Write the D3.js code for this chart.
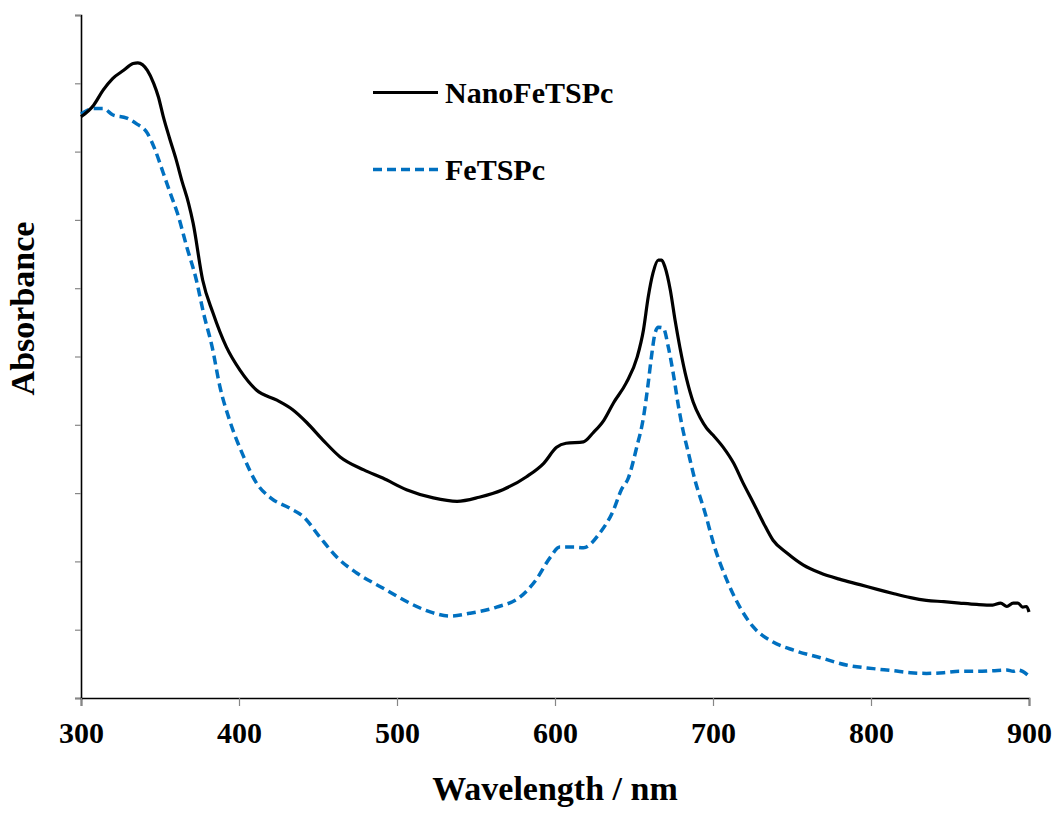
<!DOCTYPE html>
<html>
<head>
<meta charset="utf-8">
<script src="https://cdn.jsdelivr.net/npm/d3@7"></script>
<style>
  body { margin: 0; background: #fff; }
  text { font-family: "Liberation Serif", "Times New Roman", serif; font-weight: bold; }
</style>
</head>
<body>
<div id="chart"></div>
<script>
// NanoFeTSPc (solid black)
var nanoWl = [300, 308, 314, 320, 327, 333, 336, 342, 346, 349, 352, 356, 360, 364, 368, 371,
    377, 383.5, 392, 400.6, 411, 424, 434, 443, 453, 464, 479, 491, 506, 523, 538, 552, 567, 582, 593,
    601, 607, 618, 624, 631, 637, 645, 652, 656, 659, 662, 665.4, 667.5, 669.6, 673, 676, 679, 683.4,
    687.5, 692, 696, 700, 706.5, 713, 719, 725.5, 732, 738, 747, 757, 768, 780, 793, 804, 814, 825,
    835, 846, 856, 867, 877, 882, 886, 890, 893, 896, 898.5, 900];
var nanoAbs = [0.851, 0.868, 0.890, 0.907, 0.919, 0.929, 0.930, 0.919, 0.900, 0.880, 0.852, 0.820,
    0.790, 0.756, 0.725, 0.695, 0.612, 0.564, 0.514, 0.480, 0.451, 0.436, 0.422, 0.403, 0.378,
    0.353, 0.334, 0.322, 0.305, 0.293, 0.288, 0.294, 0.305, 0.324, 0.344, 0.367, 0.373, 0.375, 0.388,
    0.407, 0.432, 0.461, 0.499, 0.539, 0.587, 0.622, 0.641, 0.641, 0.631, 0.597, 0.553, 0.514, 0.466,
    0.433, 0.410, 0.395, 0.385, 0.367, 0.344, 0.315, 0.286, 0.256, 0.231, 0.212, 0.195, 0.183, 0.174,
    0.166, 0.159, 0.153, 0.147, 0.143, 0.141, 0.139, 0.137, 0.136, 0.139, 0.134, 0.139, 0.139, 0.133,
    0.134, 0.126];

// FeTSPc (dashed blue)
var feWl = [300, 308, 314, 320, 329, 335, 342, 347, 352, 357, 361, 367, 373, 377.5, 383, 388, 394, 403,
    411, 420, 432, 441, 451, 462, 474.5, 491, 508, 521, 533.5, 546, 563, 578, 588, 597, 603, 612, 618,
    628.5, 637, 642, 646.4, 651.7, 656, 659, 661, 663.3, 665.4, 668.5, 671.7, 675, 678, 681, 684, 688.6,
    695, 701, 708.7, 717, 725.5, 738, 751, 768, 785, 801.5, 814, 825, 835, 846, 856, 867, 877, 886,
    890, 893, 896, 900];
var feAbs = [0.855, 0.863, 0.863, 0.854, 0.849, 0.841, 0.827, 0.802, 0.769, 0.736, 0.710, 0.660, 0.612,
    0.564, 0.514, 0.455, 0.407, 0.353, 0.315, 0.293, 0.278, 0.265, 0.236, 0.206, 0.183, 0.161, 0.139,
    0.126, 0.120, 0.124, 0.133, 0.148, 0.173, 0.206, 0.221, 0.221, 0.220, 0.242, 0.275, 0.305, 0.322,
    0.367, 0.411, 0.461, 0.499, 0.534, 0.543, 0.542, 0.514, 0.473, 0.429, 0.392, 0.363, 0.319, 0.271,
    0.221, 0.173, 0.133, 0.104, 0.082, 0.070, 0.059, 0.048, 0.043, 0.040, 0.037, 0.036, 0.037, 0.039,
    0.039, 0.040, 0.041, 0.039, 0.041, 0.039, 0.032];

var xTicks = [300, 400, 500, 600, 700, 800, 900];
var yTicks = [0, 0.1, 0.2, 0.3, 0.4, 0.5, 0.6, 0.7, 0.8, 0.9, 1.0];
var seriesNames = ["NanoFeTSPc", "FeTSPc"];

var svgWidth = 1053;
var svgHeight = 815;

var margin = {
    top: 15,
    right: 24,
    bottom: 117,
    left: 81
};

var chartWidth = svgWidth - margin.left - margin.right;
var chartHeight = svgHeight - margin.top - margin.bottom;

var svg = d3.select("#chart")
    .append("svg")
    .attr("width", svgWidth)
    .attr("height", svgHeight);

var chartGroup = svg.append("g")
    .attr("transform", `translate(${margin.left}, ${margin.top})`);

var xScale = d3.scaleLinear()
    .domain([300, 900])
    .range([0, chartWidth]);

var yScale = d3.scaleLinear()
    .domain([0, 1])
    .range([chartHeight, 0]);

var leftAxis = d3.axisLeft(yScale)
    .tickValues(yTicks)
    .tickSize(6)
    .tickFormat("");

var bottomAxis = d3.axisBottom(xScale)
    .tickValues(xTicks)
    .tickSize(8)
    .tickPadding(16)
    .tickFormat(d3.format("d"));

var yAxisG = chartGroup.append("g")
    .call(leftAxis);

var xAxisG = chartGroup.append("g")
    .attr("transform", `translate(0, ${chartHeight})`)
    .call(bottomAxis);

[yAxisG, xAxisG].forEach(function(g) {
    g.select(".domain")
        .attr("stroke", "#000")
        .attr("stroke-width", 1.6);
    g.selectAll(".tick line")
        .attr("stroke", "#868686")
        .attr("stroke-width", 1.2);
});

xAxisG.selectAll(".tick text")
    .attr("font-size", "30px")
    .attr("fill", "#000");

var line = d3.line()
    .x(d => xScale(d[0]))
    .y(d => yScale(d[1]))
    .curve(d3.curveMonotoneX);

var nanoData = nanoWl.map((w, i) => [w, nanoAbs[i]]);
var feData = feWl.map((w, i) => [w, feAbs[i]]);

chartGroup.append("path")
    .datum(feData)
    .attr("fill", "none")
    .attr("stroke", "#0070C0")
    .attr("stroke-width", 3.5)
    .attr("stroke-dasharray", "9,5")
    .attr("d", line);

chartGroup.append("path")
    .datum(nanoData)
    .attr("fill", "none")
    .attr("stroke", "#000")
    .attr("stroke-width", 3.2)
    .attr("stroke-linejoin", "round")
    .attr("d", line);

// legend
var legend = svg.append("g");
var legendY = [92.5, 169.5];
var legendStyles = [
    { stroke: "#000", dash: null, width: 3.2 },
    { stroke: "#0070C0", dash: "9,5", width: 3.5 }
];

seriesNames.forEach(function(name, i) {
    legend.append("line")
        .attr("x1", 373)
        .attr("x2", 438)
        .attr("y1", legendY[i])
        .attr("y2", legendY[i])
        .attr("stroke", legendStyles[i].stroke)
        .attr("stroke-width", legendStyles[i].width)
        .attr("stroke-dasharray", legendStyles[i].dash);
    legend.append("text")
        .attr("x", 445)
        .attr("y", legendY[i] + 10)
        .attr("font-size", "30px")
        .text(name);
});

// axis titles
svg.append("text")
    .attr("x", margin.left + chartWidth / 2)
    .attr("y", 800)
    .attr("text-anchor", "middle")
    .attr("font-size", "34px")
    .text("Wavelength / nm");

svg.append("text")
    .attr("transform", "translate(33.5, 308.5) rotate(-90)")
    .attr("text-anchor", "middle")
    .attr("font-size", "34px")
    .text("Absorbance");
</script>
</body>
</html>
